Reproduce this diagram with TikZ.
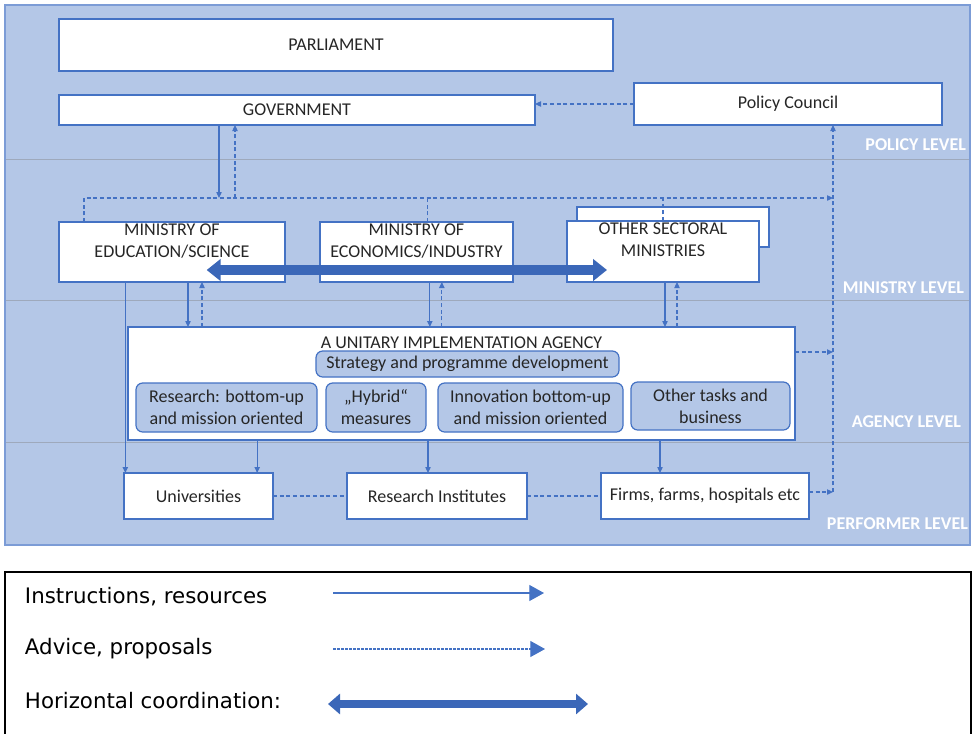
\documentclass[tikz,border=0pt]{standalone}
\usepackage{fontspec}
\setmainfont{Carlito}
\newfontfamily\legendfont{DejaVu Sans}
\usepackage{xcolor}
\usetikzlibrary{arrows.meta,positioning}
\definecolor{panelblue}{HTML}{B4C7E7}
\definecolor{lineblue}{HTML}{4472C4}
\definecolor{darkblue}{HTML}{3B67B8}
\definecolor{rulegray}{HTML}{9EA9BC}

\begin{document}
\begin{tikzpicture}[x=0.75pt,y=-0.75pt,>={Triangle[length=4.5pt,width=4pt]},
    sz/.style 2 args={minimum width=#1*0.75pt,minimum height=#2*0.75pt}]
    \tikzstyle{every node}=[inner sep=0pt,outer sep=0pt,font=\fontsize{13.5}{16.5}\selectfont,text=black!85]
    \tikzstyle{box}=[draw=lineblue,fill=white,line width=0.9pt]
    \tikzstyle{task}=[draw=lineblue,fill=panelblue,line width=0.9pt,rounded corners=5pt,align=center]
    \tikzstyle{title}=[align=center,anchor=north,inner sep=1.5pt]
    \tikzstyle{level}=[anchor=east,text=white,font=\fontsize{13.5}{16.5}\selectfont\bfseries]
    \tikzstyle{instr}=[->,draw=lineblue,line width=0.9pt]
    \tikzstyle{adv}=[->,draw=lineblue,line width=0.9pt,dash pattern=on 3pt off 2pt]
    \tikzstyle{horiz}=[{Triangle[length=10.5pt,width=16pt]}-{Triangle[length=10.5pt,width=16pt]},draw=darkblue,line width=7pt]
    \tikzstyle{legend}=[anchor=west,font=\legendfont\fontsize{16}{19}\selectfont,text=black]

    \useasboundingbox (0,0) rectangle (972,733);
    \fill[panelblue] (5,5) rectangle (970,545);
    \draw[rulegray,line width=0.6pt] (5,159) -- (970,159) (5,300) -- (970,300) (5,442) -- (970,442);
    \draw[lineblue!70,line width=0.8pt] (5,5) rectangle (970,545);

    \node[level] (lpol) at (966,145) {POLICY LEVEL};
    \node[level] (lmin) at (964,288) {MINISTRY LEVEL};
    \node[level] (lage) at (961,422) {AGENCY LEVEL};
    \node[level] (lper) at (968,524) {PERFORMER LEVEL};

    \node[box,sz={554}{52}] (par) at (336,45) {PARLIAMENT};
    \node[box,sz={476}{30}] (gov) at (297,110) {GOVERNMENT};
    \node[box,sz={308}{42}] (pc) at (788,104) {Policy Council};

    \node[box,sz={226}{60},label={[title]north:MINISTRY OF\\EDUCATION/SCIENCE}] (mes) at (172,252) {};
    \node[box,sz={193}{60},label={[title]north:MINISTRY OF\\ECONOMICS/INDUSTRY}] (mei) at (416.5,252) {};
    \node[box,sz={192}{40}] (mosb) at (673,227) {};
    \node[box,sz={192}{61},label={[title]north:OTHER SECTORAL\\MINISTRIES}] (mos) at (663,251.5) {};

    \node[box,sz={667}{113},label={[title,inner sep=7pt]north:A UNITARY IMPLEMENTATION AGENCY}] (agency) at (461.5,383.5) {};
    \node[task,sz={303}{26}] (strat) at (467.5,364) {Strategy and programme development};
    \node[task,sz={181}{49}] (res) at (226.5,407.5) {Research: bottom-up\\and mission oriented};
    \node[task,sz={100}{49}] (hyb) at (376,407.5) {„Hybrid“\\measures};
    \node[task,sz={185}{49}] (inn) at (530.5,407.5) {Innovation bottom-up\\and mission oriented};
    \node[task,sz={159}{48}] (oth) at (710.5,406) {Other tasks and\\business};

    \node[box,sz={149}{46}] (uni) at (198.5,496) {Universities};
    \node[box,sz={180}{46}] (ri) at (437,496) {Research Institutes};
    \node[box,sz={208}{46}] (firm) at (705,496) {Firms, farms, hospitals etc};

    \coordinate (busL) at (84,198);
    \coordinate (busR) at (833,198);
    \coordinate (g1) at (219,198);
    \coordinate (g2) at (235,198);
    \coordinate (vb) at (833,492);

    \draw[instr] (gov.south -| g1) -- (g1);
    \draw[adv] (g2) -- (gov.south -| g2);
    \draw[adv] (busL |- mes.north) -- (busL) -- (busR);
    \draw[adv,-] ([xshift=8.5pt]mei.north) -- ++(0,-24);
    \draw[adv,-] (mos.north) -- ++(0,-23);
    \draw[adv] (vb) -- (vb |- pc.south);
    \draw[adv] (pc.west) -- (pc.west -| gov.east);
    \draw[adv] ([yshift=23.6pt]agency.east) -- ++(38,0);
    \draw[adv] ([yshift=3pt]firm.east) -- ++(24,0);

    \draw[instr] ([xshift=12pt]mes.south) -- ([xshift=12pt]mes.south |- agency.north);
    \draw[adv] ([xshift=22.5pt]mes.south |- agency.north) -- ([xshift=22.5pt]mes.south);
    \draw[instr] ([xshift=10pt]mei.south) -- ([xshift=10pt]mei.south |- agency.north);
    \draw[adv] ([xshift=19pt]mei.south |- agency.north) -- ([xshift=19pt]mei.south);
    \draw[instr] ([xshift=1.5pt]mos.south) -- ([xshift=1.5pt]mos.south |- agency.north);
    \draw[adv] ([xshift=10.5pt]mos.south |- agency.north) -- ([xshift=10.5pt]mos.south);

    \draw[instr] ([xshift=-35pt]mes.south) -- ([xshift=-35pt]mes.south |- uni.north);
    \draw[instr] ([xshift=44pt]uni.north |- agency.south) -- ([xshift=44pt]uni.north);
    \draw[instr] ([xshift=-6.75pt]ri.north |- agency.south) -- ([xshift=-6.75pt]ri.north);
    \draw[instr] ([xshift=-33.75pt]firm.north |- agency.south) -- ([xshift=-33.75pt]firm.north);
    \draw[adv,-] (uni) -- (ri);
    \draw[adv,-] (ri) -- (firm);

    \draw[horiz] ([xshift=26pt,yshift=9pt]mes.south) -- ([xshift=-42pt,yshift=9pt]mos.south);

    \draw[black,line width=0.8pt] (5,745) -- (5,572) -- (971,572) -- (971,745);
    \node[legend] (linstr) at (25,597) {Instructions, resources};
    \node[legend] (ladv) at (25,649) {Advice, proposals};
    \node[legend] (lhor) at (25,701) {Horizontal coordination:};
    \coordinate (li1) at (333,593);
    \coordinate (li2) at (544,593);
    \coordinate (la1) at (333,649);
    \coordinate (la2) at (545,649);
    \coordinate (lh1) at (328,704);
    \coordinate (lh2) at (588,704);
    \draw[lineblue,line width=0.8pt,-{Triangle[length=11pt,width=12pt]}] (li1) -- (li2);
    \draw[lineblue,line width=0.8pt,dash pattern=on 2pt off 1pt,-{Triangle[length=11pt,width=12pt]}] (la1) -- (la2);
    \draw[horiz,line width=6pt,{Triangle[length=9pt,width=15pt]}-{Triangle[length=9pt,width=15pt]}] (lh1) -- (lh2);
\end{tikzpicture}
\end{document}
